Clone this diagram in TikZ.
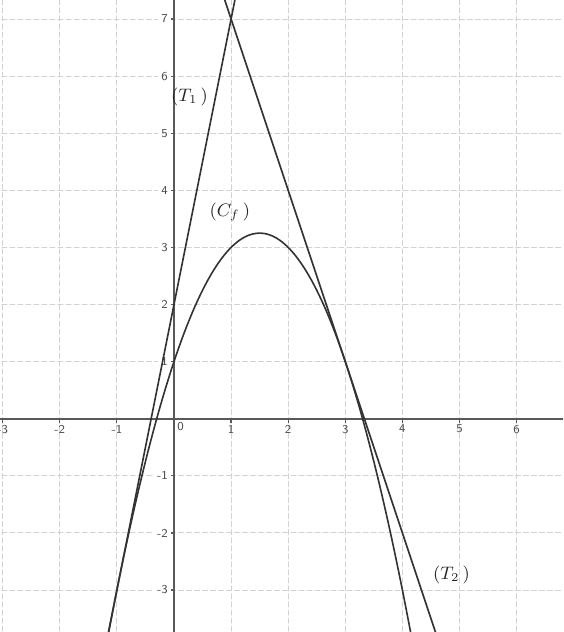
\documentclass[tikz,border=0pt]{standalone}
\begin{document}
\begin{tikzpicture}[line join=round, line cap=round, >=stealth,
		tick/.style={font=\sffamily\fontsize{6}{7}\selectfont, text=gray!60!black, inner sep=1.5pt},
		curve/.style={line width=0.8pt, black!80},
		lbl/.style={font=\fontsize{9}{11}\selectfont, text=black!85}]
				% Khung hình
				\useasboundingbox (-3.047,-3.735) rectangle (6.813,7.333);
				\clip (-3.047,-3.735) rectangle (6.813,7.333);
				
				% Lưới ô vuông
				\draw[gray!35, line width=0.5pt, dash pattern=on 2.5pt off 1.5pt] (-4,-4) grid (7,8);
				
				% Các trục tọa độ
				\coordinate (O) at (0,0);
				\draw[gray!70!black, line width=0.9pt] (-3.2,0) -- (7,0);
				\draw[gray!70!black, line width=0.9pt] (0,-4) -- (0,7.5);
				
				% Vạch chia và số trên các trục
				\foreach \x in {-3,-2,-1,1,2,3,4,5,6} {
					\draw[gray!70!black, line width=0.6pt] (\x,0) -- (\x,-0.07);
					\node[tick, below] (x\x) at (\x,-0.05) {\x};
				}
				\foreach \y in {-3,-2,-1,1,2,3,4,5,6,7} {
					\draw[gray!70!black, line width=0.6pt] (0,\y) -- (-0.07,\y);
					\node[tick, left, fill=white] (y\y) at (-0.05,\y) {\y};
				}
				\node[tick, below right] (o) at (O) {0};
				
				% Parabol (C_f): y = -x^2 + 3x + 1
				\draw[curve, domain=-1.25:4.25, samples=120] plot (\x,{-(\x)*(\x)+3*(\x)+1});
				
				% Các tiếp tuyến
				\coordinate (A) at (-1.2,-4); \coordinate (B) at (1.1,7.5);
				\coordinate (C) at (0.8,7.6); \coordinate (D) at (4.7,-4.1);
				\draw[curve] (A) -- (B);
				\draw[curve] (C) -- (D);
				
				% Nhãn các đường
				\node[lbl] (T1) at (0.27,5.63) {$(T_1\,)$};
				\node[lbl] (Cf) at (0.98,3.62) {$(C_f\,)$};
				\node[lbl] (T2) at (4.86,-2.74) {$(T_2\,)$};
			\end{tikzpicture}
\end{document}
